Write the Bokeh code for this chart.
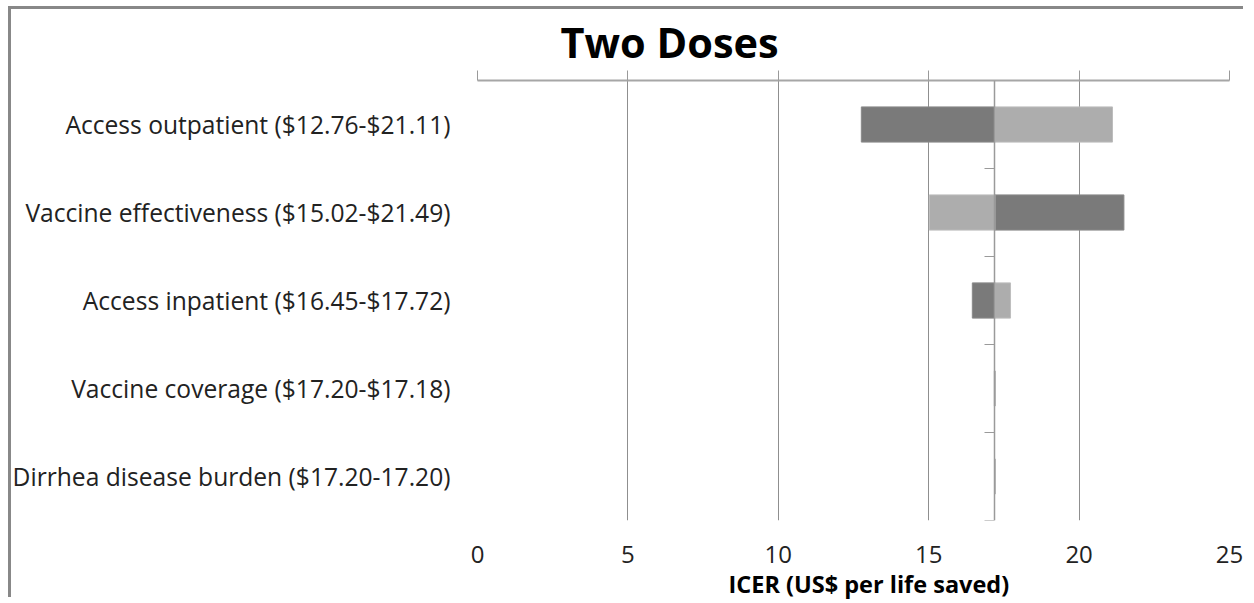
from bokeh.plotting import figure
from bokeh.models import (ColumnDataSource, Range1d, LinearAxis, FixedTicker,
                          Grid, InlineStyleSheet, Title)
from bokeh.embed import file_html
from bokeh.resources import INLINE

# ---- data ----
parameters = [
    "Access outpatient ($12.76-$21.11)",
    "Vaccine effectiveness ($15.02-$21.49)",
    "Access inpatient ($16.45-$17.72)",
    "Vaccine coverage ($17.20-$17.18)",
    "Dirrhea disease burden ($17.20-17.20)",
]
base_icer = 17.20
dark_values = [12.76, 21.49, 16.45, 17.20, 17.20]
light_values = [21.11, 15.02, 17.72, 17.18, 17.20]
x_ticks = [0, 5, 10, 15, 20, 25]
title_text = "Two Doses"
x_label = "ICER (US$ per life saved)"

FONT = "Open Sans"
W, H = 1246, 600

n = len(parameters)
ypos = [i + 0.5 for i in range(n)]
boundaries = [i + 1 for i in range(n)]

p = figure(width=W, height=H, output_backend="svg", toolbar_location=None,
           x_range=Range1d(0, 25), y_range=Range1d(n, 0),
           x_axis_location=None, y_axis_location=None,
           min_border_left=477, min_border_right=W - 1229,
           min_border_top=80, min_border_bottom=H - 520,
           background_fill_color="white", border_fill_color="white")
p.outline_line_color = None
# drop any default grids
p.center = [r for r in p.center if not isinstance(r, Grid)]

# outer chart border (top and left edges visible)
p.stylesheets = [InlineStyleSheet(css=f"""
:host {{ position: relative; }}
:host::after {{
  content: ""; position: absolute; left: 8px; top: 6px;
  width: {W - 8 - 3}px; height: {H - 6 - 3}px;
  border-left: 3px solid #888888; border-top: 3px solid #888888;
  pointer-events: none; box-sizing: border-box;
}}
""")]

# title
p.title.text = title_text
p.title.text_font = FONT
p.title.text_font_size = "41.5px"
p.title.text_font_style = "bold"
p.title.text_color = "#000000"
p.title.align = "left"
p.title.offset = 83
p.title.standoff = 2

# gridlines
p.add_layout(Grid(dimension=0, ticker=FixedTicker(ticks=x_ticks),
                  grid_line_color="#8f8f8f", grid_line_width=1))

# top axis line with outward ticks
top_ax = LinearAxis(ticker=FixedTicker(ticks=x_ticks),
                    axis_line_color="#a6a6a6", axis_line_width=2,
                    major_tick_line_color="#9a9a9a", major_tick_out=10, major_tick_in=0,
                    minor_tick_line_color=None,
                    major_label_text_font_size="8px", major_label_text_color=None,
                    major_label_standoff=0)
p.add_layout(top_ax, "above")

# bottom axis labels
bot_ax = LinearAxis(ticker=FixedTicker(ticks=x_ticks),
                    axis_line_color=None, major_tick_line_color=None,
                    minor_tick_line_color=None,
                    major_tick_out=0, major_tick_in=0,
                    major_label_standoff=25,
                    major_label_text_font=FONT, major_label_text_font_size="24px",
                    major_label_text_color="#222222")
p.add_layout(bot_ax, "below")

# axis title below
p.add_layout(Title(text=x_label, align="left", offset=251, standoff=0,
                   text_font=FONT, text_font_size="23.5px", text_font_style="bold",
                   text_color="#000000"), "below")

# category labels on left
lab_ax = LinearAxis(ticker=FixedTicker(ticks=ypos),
                    major_label_overrides={y: t for y, t in zip(ypos, parameters)},
                    axis_line_color=None, major_tick_line_color=None,
                    minor_tick_line_color=None, major_tick_out=0, major_tick_in=0,
                    major_label_standoff=27,
                    major_label_text_font=FONT, major_label_text_font_size="24.6px",
                    major_label_text_color="#222222")
p.add_layout(lab_ax, "left")

# bars
src_dark = ColumnDataSource(dict(y=ypos, left=[base_icer] * n, right=dark_values))
src_light = ColumnDataSource(dict(y=ypos, left=[base_icer] * n, right=light_values))
p.hbar(y="y", left="left", right="right", height=0.4, source=src_dark,
       fill_color="#7a7a7a", line_color="#8a8a8a", line_width=1)
p.hbar(y="y", left="left", right="right", height=0.4, source=src_light,
       fill_color="#adadad", line_color="#bdbdbd", line_width=1)

# category axis crossing at base value
cat_ax = LinearAxis(ticker=FixedTicker(ticks=boundaries), fixed_location=base_icer,
                    axis_line_color="#9a9a9a", axis_line_width=1.5,
                    major_tick_line_color="#9a9a9a", major_tick_out=10, major_tick_in=0,
                    minor_tick_line_color=None,
                    major_label_text_font_size="8px", major_label_text_color=None,
                    major_label_standoff=0)
p.add_layout(cat_ax, "left")

open("out.html", "w").write(file_html(p, INLINE))
